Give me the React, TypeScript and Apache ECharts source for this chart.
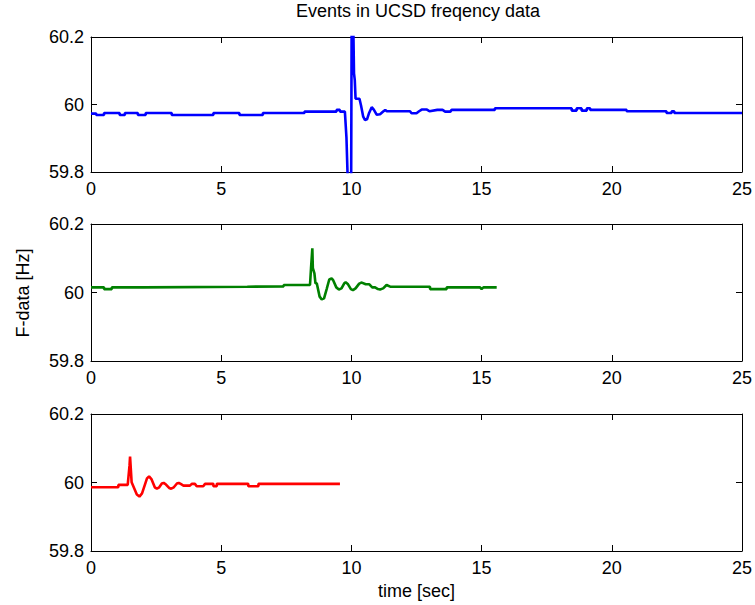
import React, { useEffect, useRef } from "react";
import * as echarts from "echarts";

const titleText = "Events in UCSD freqency data";
const yLabelText = "F-data [Hz]";
const xLabelText = "time [sec]";

const xTicks = { min: 0, max: 25, interval: 5 };
const yTicks = { min: 59.8, max: 60.2, interval: 0.2 };

const blueTime = [
  0, 0.2, 0.2, 0.5, 0.5, 1.1, 1.1, 1.3, 1.3, 1.8, 1.8, 2.1, 2.1, 3.1, 3.1, 4.7, 4.7, 5.7, 5.7, 6.6, 6.6, 8.2, 8.2,
  9.43, 9.43, 9.56, 9.56, 9.75, 9.81, 9.87, 9.99, 10.01, 10.07, 10.1, 10.13, 10.16, 10.31, 10.37, 10.45, 10.52,
  10.6, 10.68, 10.78, 10.86, 10.97, 11.1, 11.22, 11.3, 11.36, 12.25, 12.31, 12.5, 12.6, 12.7, 12.9, 13.0, 13.3,
  13.5, 13.6, 13.8, 13.85, 15.51, 15.51, 18.46, 18.46, 18.65, 18.65, 18.84, 18.84, 19.04, 19.04, 19.17, 19.17,
  20.57, 20.57, 22.1, 22.1, 22.3, 22.3, 22.4, 22.4, 25,
];
const blueFreq = [
  59.973, 59.973, 59.969, 59.969, 59.975, 59.975, 59.969, 59.969, 59.975, 59.975, 59.969, 59.969, 59.975, 59.975,
  59.969, 59.969, 59.975, 59.975, 59.969, 59.969, 59.975, 59.975, 59.979, 59.979, 59.984, 59.984, 59.979, 59.979,
  59.902, 59.75, 59.75, 60.25, 60.25, 60.092, 60.072, 60.017, 60.017, 59.997, 59.965, 59.954, 59.956, 59.975,
  59.992, 59.985, 59.97, 59.971, 59.979, 59.984, 59.98, 59.98, 59.974, 59.974, 59.98, 59.985, 59.985, 59.98,
  59.984, 59.984, 59.979, 59.979, 59.984, 59.984, 59.989, 59.989, 59.982, 59.982, 59.989, 59.989, 59.982, 59.982,
  59.989, 59.989, 59.984, 59.984, 59.98, 59.98, 59.975, 59.975, 59.98, 59.98, 59.975, 59.975,
];

const greenTime = [
  0, 0.5, 0.5, 0.8, 0.8, 2.0, 2.0, 6.0, 6.0, 7.4, 7.4, 8.41, 8.45, 8.5, 8.52, 8.54, 8.58, 8.62, 8.67, 8.78, 8.86,
  8.95, 9.05, 9.15, 9.24, 9.3, 9.42, 9.52, 9.62, 9.72, 9.78, 9.86, 9.98, 10.06, 10.16, 10.3, 10.4, 10.55, 10.69,
  10.8, 10.91, 11.02, 11.1, 11.22, 11.35, 11.49, 13.02, 13.02, 13.66, 13.66, 14.94, 15.0, 15.07, 15.58,
];
const greenFreq = [
  60.015, 60.015, 60.01, 60.01, 60.015, 60.015, 60.017, 60.017, 60.018, 60.018, 60.022, 60.022, 60.071, 60.129,
  60.071, 60.071, 60.056, 60.027, 60.027, 59.988, 59.98, 59.983, 60.01, 60.038, 60.041, 60.036, 60.015, 60.009,
  60.012, 60.026, 60.03, 60.025, 60.01, 60.007, 60.012, 60.026, 60.029, 60.024, 60.024, 60.015, 60.015, 60.01,
  60.009, 60.012, 60.022, 60.017, 60.017, 60.01, 60.01, 60.015, 60.015, 60.01, 60.015, 60.015,
];

const redTime = [
  0, 1.05, 1.05, 1.41, 1.48, 1.5, 1.56, 1.76, 1.86, 1.96, 2.15, 2.23, 2.32, 2.45, 2.53, 2.62, 2.72, 2.79, 2.88,
  3.0, 3.08, 3.18, 3.3, 3.37, 3.46, 3.55, 3.8, 3.87, 3.99, 4.06, 4.31, 4.38, 4.7, 4.7, 4.83, 4.83, 6.04, 6.04,
  6.43, 6.43, 9.56,
];
const redFreq = [
  59.986, 59.986, 59.993, 59.993, 60.05, 60.076, 60.001, 59.965, 59.959, 59.968, 60.012, 60.018, 60.01, 59.986,
  59.982, 59.986, 59.997, 59.999, 59.994, 59.984, 59.982, 59.986, 59.997, 59.999, 59.995, 59.991, 59.991, 59.996,
  59.996, 59.989, 59.989, 59.996, 59.996, 59.989, 59.989, 59.996, 59.996, 59.989, 59.989, 59.996, 59.996,
];

const seriesColors = ["#0000ff", "#008000", "#ff0000"];

const FONT = "'Liberation Sans', Arial, sans-serif";
const FS = 18;

function zip(t: number[], f: number[]) {
  return t.map((x, i) => [x, f[i]]);
}

export default function App() {
  const ref = useRef<HTMLDivElement>(null);
  useEffect(() => {
    if (!ref.current) return;
    const chart = echarts.init(ref.current, null, { renderer: "svg" });
    const grids = [
      { left: 91, right: 13, top: 37, height: 135 },
      { left: 91, right: 13, top: 224, height: 137 },
      { left: 91, right: 13, top: 414, height: 137 },
    ];
    const xAxes: any[] = [];
    const yAxes: any[] = [];
    const lineStyle = { color: "#000", width: 1 };
    grids.forEach((_, gi) => {
      xAxes.push({
        type: "value",
        gridIndex: gi,
        position: "bottom",
        ...xTicks,
        axisLine: { show: true, onZero: false, lineStyle },
        axisTick: { show: true, inside: true, length: 6, lineStyle },
        axisLabel: { show: true, color: "#000", fontSize: FS, fontFamily: FONT, margin: 8 },
        splitLine: { show: false },
      });
      xAxes.push({
        type: "value",
        gridIndex: gi,
        position: "top",
        ...xTicks,
        axisLine: { show: true, onZero: false, lineStyle },
        axisTick: { show: true, inside: true, length: 6, lineStyle },
        axisLabel: { show: false },
        splitLine: { show: false },
      });
      yAxes.push({
        type: "value",
        gridIndex: gi,
        position: "left",
        ...yTicks,
        axisLine: { show: true, onZero: false, lineStyle },
        axisTick: { show: true, inside: true, length: 6, lineStyle },
        axisLabel: {
          show: true,
          color: "#000",
          fontSize: FS,
          fontFamily: FONT,
          margin: 7,
          formatter: (v: number) => String(Math.round(v * 10) / 10),
        },
        splitLine: { show: false },
      });
      yAxes.push({
        type: "value",
        gridIndex: gi,
        position: "right",
        ...yTicks,
        axisLine: { show: true, onZero: false, lineStyle },
        axisTick: { show: true, inside: true, length: 6, lineStyle },
        axisLabel: { show: false },
        splitLine: { show: false },
      });
    });
    const datas = [zip(blueTime, blueFreq), zip(greenTime, greenFreq), zip(redTime, redFreq)];
    const series = datas.map((d, i) => ({
      type: "line",
      xAxisIndex: i * 2,
      yAxisIndex: i * 2,
      data: d,
      showSymbol: false,
      symbol: "none",
      clip: true,
      lineStyle: { color: seriesColors[i], width: 2.6 },
      z: 1,
    }));
    chart.setOption({
      animation: false,
      backgroundColor: "#ffffff",
      grid: grids,
      xAxis: xAxes,
      yAxis: yAxes,
      series,
      graphic: [
        {
          type: "text",
          x: 418,
          y: 11,
          style: { text: titleText, fontSize: FS, fontFamily: FONT, fill: "#000", align: "center", verticalAlign: "middle" },
        },
        {
          type: "text",
          x: 23,
          y: 293,
          rotation: Math.PI / 2,
          style: { text: yLabelText, fontSize: FS, fontFamily: FONT, fill: "#000", align: "center", verticalAlign: "middle" },
        },
        {
          type: "text",
          x: 416.5,
          y: 591,
          style: { text: xLabelText, fontSize: FS, fontFamily: FONT, fill: "#000", align: "center", verticalAlign: "middle" },
        },
      ],
    });
    return () => chart.dispose();
  }, []);
  return <div ref={ref} style={{ position: "fixed", left: 0, top: 0, width: 755, height: 605 }} />;
}
